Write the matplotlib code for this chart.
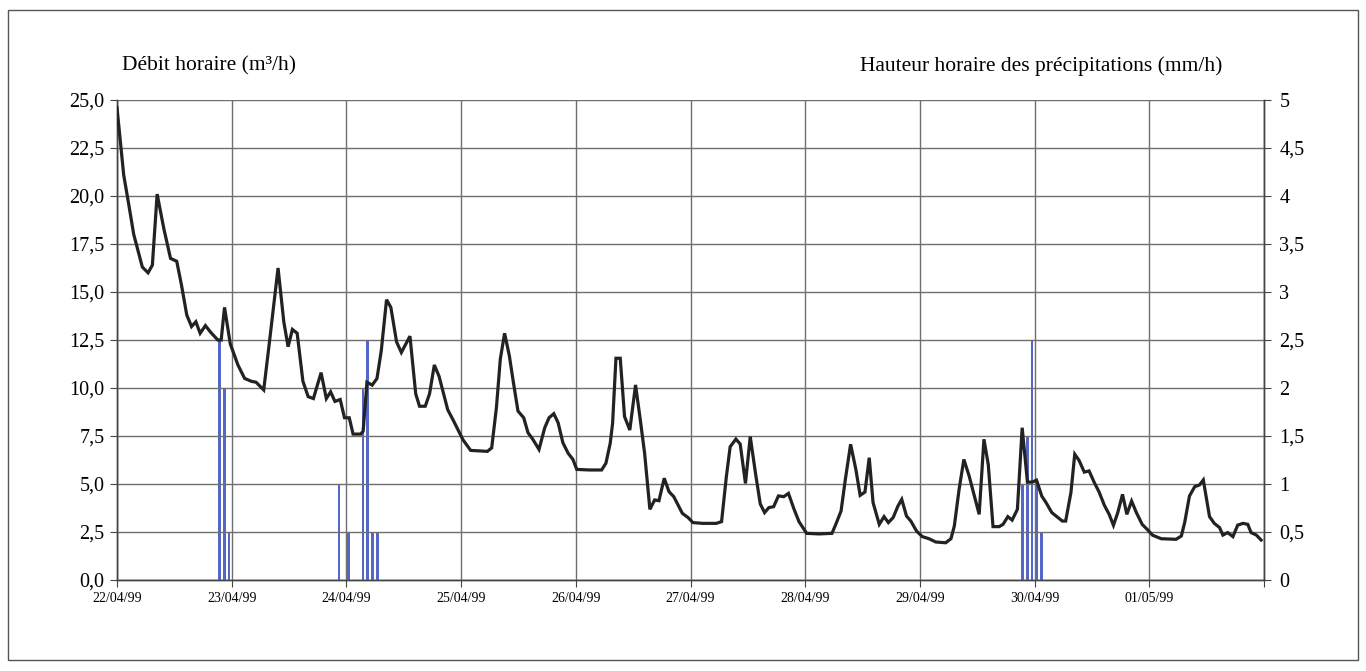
import numpy as np
import matplotlib
matplotlib.use("Agg")
import matplotlib.pyplot as plt
from matplotlib.patches import Rectangle
from matplotlib.ticker import FuncFormatter

# Hourly discharge (m3/h), vertices, hours since 22/04/99 00:00
debit_h = [0, 1.4, 2.5, 3.5, 5.3, 6.5, 7.4, 8.4, 9.8, 11.2, 12.5, 13.5, 14.6, 15.6, 16.5,
           17.4, 18.5, 19.6, 21.1, 21.8, 22.5, 23.7, 25.3, 26.7, 28.1, 29.1, 30.7, 31.9,
           33.7, 34.9, 35.8, 36.7, 37.7, 38.9, 40.0, 41.1, 42.7, 43.8, 44.7, 45.6, 46.7,
           47.6, 48.6, 49.4, 51.0, 51.5, 52.3, 53.4, 54.4, 55.3, 56.4, 57.3, 58.5, 59.5,
           61.3, 62.5, 63.3, 64.5, 65.4, 66.4, 67.4, 69.2, 70.4, 72.4, 74.0, 77.5, 78.4,
           79.4, 80.2, 81.1, 82.1, 82.9, 83.9, 85.1, 86.0, 87.0, 88.3, 89.5, 90.4, 91.4,
           92.3, 93.3, 94.4, 95.4, 96.2, 98.9, 101.4, 102.3, 103.2, 103.7, 104.4, 105.3,
           106.2, 107.3, 108.5, 109.5, 110.4, 111.5, 112.5, 113.4, 114.5, 115.5, 116.5,
           118.3, 119.5, 120.5, 122.6, 125.4, 126.5, 127.5, 128.3, 129.5, 130.4, 131.5,
           132.5, 133.6, 134.6, 135.5, 136.4, 137.4, 138.4, 139.5, 140.5, 141.6, 142.7,
           144.3, 146.9, 149.6, 150.4, 151.5, 152.4, 153.5, 154.6, 155.5, 156.5, 157.4,
           158.2, 159.5, 160.5, 161.4, 162.4, 163.4, 164.2, 165.2, 166.1, 167.3, 168.5,
           169.9, 171.3, 173.4, 174.5, 175.2, 176.2, 177.2, 178.3, 179.3, 180.4, 181.4,
           182.3, 183.3, 184.6, 185.4, 186.4, 187.3, 188.4, 189.4, 190.5, 191.5, 192.4,
           193.5, 194.4, 195.6, 196.5, 197.8, 198.5, 199.6, 200.4, 201.3, 202.4, 203.4,
           204.5, 205.5, 206.6, 207.6, 208.5, 209.4, 210.4, 211.3, 212.3, 213.3, 214.5,
           215.7, 216.7, 218.5, 221.6, 222.7, 223.4, 224.4, 225.5, 226.5, 227.3, 228.6,
           229.6, 230.7, 231.4, 232.4, 233.5, 234.5, 235.6, 236.6, 237.3, 238.4, 239.4]
debit = [24.6, 21.1, 19.5, 18.0, 16.3, 16.0, 16.4, 20.1, 18.3, 16.75, 16.6, 15.35, 13.8, 13.2, 13.45,
         12.85, 13.25, 12.9, 12.5, 12.5, 14.2, 12.3, 11.2, 10.5, 10.35, 10.3, 9.9, 12.4,
         16.25, 13.45, 12.15, 13.05, 12.85, 10.35, 9.55, 9.45, 10.8, 9.45, 9.8, 9.3, 9.4,
         8.45, 8.45, 7.6, 7.6, 7.75, 10.3, 10.15, 10.5, 11.95, 14.6, 14.2, 12.4, 11.85,
         12.7, 9.7, 9.05, 9.05, 9.7, 11.2, 10.6, 8.87, 8.3, 7.3, 6.75, 6.7, 6.88,
         9.0, 11.5, 12.85, 11.67, 10.36, 8.8, 8.45, 7.67, 7.33, 6.8, 7.93, 8.45, 8.66,
         8.19, 7.15, 6.6, 6.28, 5.76, 5.73, 5.73, 6.08, 7.12, 8.16, 11.55, 11.55,
         8.51, 7.81, 10.16, 8.33, 6.6, 3.68, 4.17, 4.13, 5.3, 4.6, 4.34,
         3.47, 3.25, 2.99, 2.95, 2.95, 3.04, 5.38, 6.94, 7.34, 7.08, 5.03,
         7.47, 5.56, 3.96, 3.51, 3.77, 3.82, 4.38, 4.34, 4.51, 3.73, 3.04,
         2.43, 2.40, 2.43, 2.9, 3.59, 5.24, 7.07, 5.76, 4.41, 4.58, 6.37,
         4.03, 2.9, 3.3, 2.99, 3.25, 3.85, 4.2, 3.33, 3.07, 2.55, 2.26,
         2.15, 1.98, 1.94, 2.15, 2.81, 4.72, 6.28, 5.42, 4.46, 3.42, 7.33,
         6.02, 2.78, 2.78, 2.9, 3.3, 3.12, 3.68, 7.93, 5.1, 5.1, 5.2,
         4.37, 4.03, 3.51, 3.33, 3.07, 3.07, 4.55, 6.55, 6.23, 5.62, 5.68,
         5.07, 4.58, 3.89, 3.42, 2.85, 3.51, 4.46, 3.42, 4.11, 3.51, 2.9,
         2.6, 2.33, 2.15, 2.12, 2.29, 2.99, 4.37, 4.86, 4.95, 5.21, 3.3,
         2.95, 2.73, 2.34, 2.47, 2.26, 2.86, 2.95, 2.9, 2.47, 2.34, 2.08]

# Hourly rainfall (mm/h)
pluie_h = [21, 22, 23, 46, 48, 51, 52, 53, 54, 189, 190, 191, 192, 193]
pluie = [2.5, 2.0, 0.5, 1.0, 0.5, 2.0, 2.5, 0.5, 0.5, 1.0, 1.5, 2.5, 1.0, 0.5]

jours = ["22/04/99", "23/04/99", "24/04/99", "25/04/99", "26/04/99",
         "27/04/99", "28/04/99", "29/04/99", "30/04/99", "01/05/99"]

plt.rcParams['font.family'] = ['Liberation Serif', 'DejaVu Serif']

fig = plt.figure(figsize=(13.66, 6.71), dpi=100)
fig.patches.append(Rectangle((8 / 1366, 1 - 660 / 671), 1350 / 1366, 650 / 671,
                             transform=fig.transFigure, fill=False,
                             edgecolor='#555555', linewidth=1.0))

ax = fig.add_axes([117 / 1366, 1 - 580 / 671, 1147 / 1366, 480 / 671])
ax2 = ax.twinx()

ax.set_zorder(ax2.get_zorder() + 1)
ax.patch.set_visible(False)

ax2.bar(np.array(pluie_h) + 0.45, pluie, width=0.55, color='#5466c8', zorder=3)
ax.plot(debit_h, debit, color='#222222', linewidth=2.3, solid_joinstyle='miter', zorder=4)

ax.set_xlim(0, 240)
ax.set_ylim(0, 25)
ax2.set_ylim(0, 5)

ax.set_yticks(np.arange(0, 25.1, 2.5))
ax.yaxis.set_major_formatter(FuncFormatter(lambda v, p: f"{v:.1f}".replace('.', ',')))
ax2.set_yticks(np.arange(0, 5.01, 0.5))
ax2.yaxis.set_major_formatter(FuncFormatter(
    lambda v, p: (f"{v:g}").replace('.', ',')))

ax.set_xticks(np.arange(0, 241, 24))
ax.set_xticklabels(jours + [""])

ax.grid(True, color='#6e6e6e', linewidth=1.0)
ax.set_axisbelow(True)
ax2.grid(False)

for a in (ax, ax2):
    a.spines['top'].set_visible(False)
    for s in ('left', 'right', 'bottom'):
        a.spines[s].set_color('#444444')
        a.spines[s].set_linewidth(1.0)

ax.tick_params(axis='y', labelsize=14.5, length=5, color='#444444', pad=4)
ax.tick_params(axis='x', labelsize=10, length=5, color='#444444', pad=4)
ax2.tick_params(axis='y', labelsize=14.5, length=5, color='#444444', pad=6)

fig.text(122 / 1366, 1 - 66 / 671, "Débit horaire (m³/h)", fontsize=15.5,
         ha='left', va='center')
fig.text(1222 / 1366, 1 - 66 / 671, "Hauteur horaire des précipitations (mm/h)",
         fontsize=15.5, ha='right', va='center')

fig.savefig("out.png", dpi=100)
